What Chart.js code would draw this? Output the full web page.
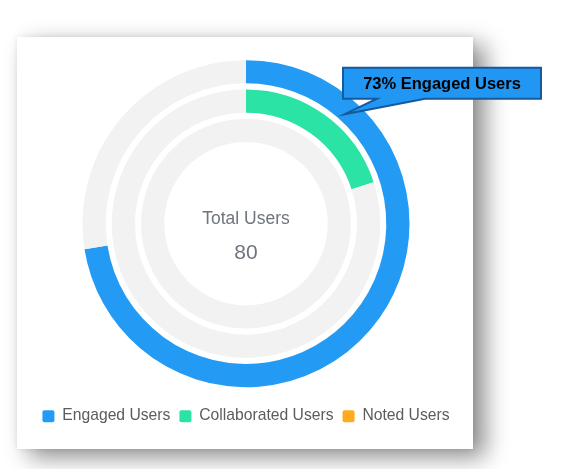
<!DOCTYPE html>
<html>
<head>
<meta charset="utf-8">
<script src="https://cdn.jsdelivr.net/npm/chart.js@4.4.1/dist/chart.umd.min.js"></script>
<style>
html, body { margin: 0; padding: 0; background: #fff; }
body { width: 561px; height: 469px; position: relative; overflow: hidden; }
.card {
    position: absolute; left: 17px; top: 37px; width: 456px; height: 412px;
    background: #fff;
    box-shadow: 12px 8px 22px rgba(0, 0, 0, 0.45), 0 0 6px rgba(0, 0, 0, 0.08);
}
.wrap { position: absolute; left: 0; top: 0; width: 561px; height: 469px; }
</style>
</head>
<body>
<div class="card"></div>
<div class="wrap"><canvas id="users"></canvas></div>
<script>
const categories = ['Engaged Users', 'Collaborated Users', 'Noted Users']
const userCounts = [58, 16, 0]
const totalUsers = 80
const centerTitle = 'Total Users'

const seriesColors = ['#239bf4', '#2ae3a4', '#ffab1f']
const trackColor = '#f2f2f2'
const textColor = '#5c5c5c'
const centerColor = '#6e757d'

const ringDatasets = () => {
    const datasets = []
    categories.forEach((label, i) => {
        if (i > 0) {
            // thin transparent ring used as the white gap between rings
            datasets.push({
                label: 'gap',
                data: [1],
                backgroundColor: ['rgba(0,0,0,0)'],
                borderWidth: 0,
                weight: 0.26
            })
        }
        datasets.push({
            label,
            data: [userCounts[i], totalUsers - userCounts[i]],
            backgroundColor: [seriesColors[i], trackColor],
            borderWidth: 0,
            weight: 1
        })
    })
    return datasets
}

const centerText = {
    id: 'centerText',
    afterDatasetsDraw(chart) {
        const arc = chart.getDatasetMeta(0).data[0]
        const ctx = chart.ctx
        ctx.save()
        ctx.textAlign = 'center'
        ctx.textBaseline = 'middle'
        ctx.fillStyle = centerColor
        ctx.font = '17.5px "Liberation Sans", Arial, sans-serif'
        ctx.fillText(centerTitle, arc.x, arc.y - 4)
        ctx.font = '21px "Liberation Sans", Arial, sans-serif'
        ctx.fillText(String(totalUsers), arc.x, arc.y + 30)
        ctx.restore()
    }
}

const callout = {
    id: 'callout',
    afterDraw(chart) {
        const arc = chart.getDatasetMeta(0).data[0]
        const ctx = chart.ctx
        const pct = Math.round(userCounts[0] / totalUsers * 100)
        const angle = -Math.PI / 2 + 42 * Math.PI / 180
        const tipR = arc.innerRadius + 7
        const tipX = arc.x + Math.cos(angle) * tipR
        const tipY = arc.y + Math.sin(angle) * tipR
        const left = arc.x + 97, top = arc.y - 156
        const right = left + 198, bottom = top + 31
        ctx.save()
        ctx.beginPath()
        ctx.moveTo(left, top)
        ctx.lineTo(right, top)
        ctx.lineTo(right, bottom)
        ctx.lineTo(left + 82, bottom)
        ctx.lineTo(tipX, tipY)
        ctx.lineTo(left + 34, bottom)
        ctx.lineTo(left, bottom)
        ctx.closePath()
        ctx.fillStyle = '#2196f3'
        ctx.fill()
        ctx.lineWidth = 2
        ctx.strokeStyle = '#15599f'
        ctx.stroke()
        ctx.fillStyle = '#000'
        ctx.font = 'bold 16.5px "Liberation Sans", Arial, sans-serif'
        ctx.textAlign = 'center'
        ctx.textBaseline = 'middle'
        ctx.fillText(pct + '% ' + categories[0], (left + right) / 2, (top + bottom) / 2 + 1)
        ctx.restore()
    }
}

new Chart(document.getElementById('users'), {
    type: 'doughnut',
    data: { labels: ['value', 'rest'], datasets: ringDatasets() },
    options: {
        responsive: true,
        maintainAspectRatio: false,
        animation: false,
        events: [],
        cutout: '50%',
        radius: 163.5,
        layout: {
            padding: { left: 0, right: 69, top: 48, bottom: 35 }
        },
        plugins: {
            tooltip: { enabled: false },
            legend: {
                position: 'bottom',
                labels: {
                    boxWidth: 12,
                    boxHeight: 12,
                    padding: 9,
                    color: textColor,
                    useBorderRadius: true,
                    borderRadius: 2,
                    font: {
                        size: 15.7,
                        family: '"Liberation Sans", Arial, sans-serif'
                    },
                    generateLabels: () => categories.map((text, i) => ({
                        text,
                        fillStyle: seriesColors[i],
                        strokeStyle: seriesColors[i],
                        lineWidth: 0,
                        borderRadius: 2,
                        fontColor: textColor,
                        hidden: false,
                        index: i
                    }))
                }
            }
        }
    },
    plugins: [centerText, callout]
})
</script>
</body>
</html>
